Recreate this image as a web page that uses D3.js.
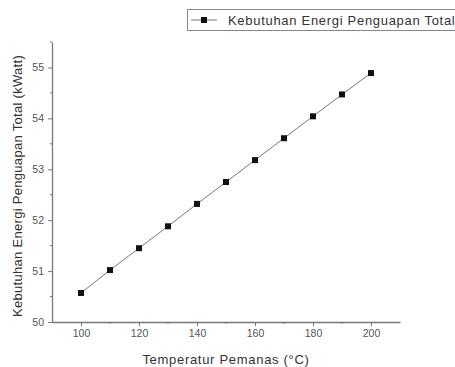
<!DOCTYPE html>
<html>
<head>
<meta charset="utf-8">
<script src="https://cdn.jsdelivr.net/npm/d3@7"></script>
<style>
  body { margin: 0; background: #fff; }
  svg { font-family: "Liberation Sans", Arial, sans-serif; }
</style>
</head>
<body>
<div id="chart"></div>
<script>
const temps = [100, 110, 120, 130, 140, 150, 160, 170, 180, 190, 200];
const energy = [50.57, 51.02, 51.45, 51.88, 52.32, 52.75, 53.18, 53.61, 54.04, 54.47, 54.89];
const xTicks = [100, 120, 140, 160, 180, 200];
const xMinor = [110, 130, 150, 170, 190];
const yTicks = [50, 51, 52, 53, 54, 55];
const yMinor = [50.5, 51.5, 52.5, 53.5, 54.5, 55.5];
const seriesName = "Kebutuhan Energi Penguapan Total";

const W = 455, H = 367;
const plot = {left: 52, right: 400, top: 42, bottom: 322};

const svg = d3.select("#chart").append("svg")
    .attr("width", W)
    .attr("height", H);

const x = d3.scaleLinear().domain([90, 210]).range([plot.left, plot.right]);
const y = d3.scaleLinear().domain([50, 55.5]).range([plot.bottom, plot.top]);

const axisColor = "#777";

// x axis
const gx = svg.append("g")
    .attr("transform", `translate(0,${plot.bottom})`)
    .call(d3.axisBottom(x).tickValues(xTicks).tickFormat(d3.format("d"))
        .tickSize(4).tickSizeOuter(0).tickPadding(4));
gx.append("g").selectAll("line")
    .data(xMinor).enter().append("line")
    .attr("x1", d => x(d)).attr("x2", d => x(d))
    .attr("y1", 0).attr("y2", 2)
    .attr("stroke", axisColor);

// y axis
const gy = svg.append("g")
    .attr("transform", `translate(${plot.left},0)`)
    .call(d3.axisLeft(y).tickValues(yTicks).tickFormat(d3.format("d"))
        .tickSize(4).tickSizeOuter(0).tickPadding(4));
gy.append("g").selectAll("line")
    .data(yMinor).enter().append("line")
    .attr("y1", d => y(d)).attr("y2", d => y(d))
    .attr("x1", 0).attr("x2", -2)
    .attr("stroke", axisColor);

[gx, gy].forEach(g => {
    g.select(".domain").attr("stroke", axisColor).attr("stroke-width", 1.3);
    g.selectAll(".tick line").attr("stroke", axisColor);
    g.selectAll(".tick text")
        .attr("fill", "#555")
        .style("font-size", "10.5px")
        .style("font-family", "Liberation Sans, Arial, sans-serif");
});

// axis titles
svg.append("text")
    .attr("x", (plot.left + plot.right) / 2)
    .attr("y", 364)
    .attr("text-anchor", "middle")
    .attr("fill", "#333")
    .style("font-size", "13px")
    .style("letter-spacing", "0.7px")
    .text("Temperatur Pemanas (°C)");

svg.append("text")
    .attr("transform", `translate(22,${(plot.top + plot.bottom) / 2 + 4}) rotate(-90)`)
    .attr("text-anchor", "middle")
    .attr("fill", "#333")
    .style("font-size", "13px")
    .style("letter-spacing", "0.3px")
    .text("Kebutuhan Energi Penguapan Total (kWatt)");

// series
const data = temps.map((t, i) => ({x: t, y: energy[i]}));
const line = d3.line().x(d => x(d.x)).y(d => y(d.y));

svg.append("path")
    .datum(data)
    .attr("fill", "none")
    .attr("stroke", "#777")
    .attr("stroke-width", 1)
    .attr("d", line);

const ms = 6;
svg.append("g").selectAll("rect")
    .data(data).enter().append("rect")
    .attr("x", d => x(d.x) - ms / 2)
    .attr("y", d => y(d.y) - ms / 2)
    .attr("width", ms)
    .attr("height", ms)
    .attr("fill", "#111");

// legend
const lg = svg.append("g");
lg.append("rect")
    .attr("x", 187.5).attr("y", 9.5)
    .attr("width", 280).attr("height", 21)
    .attr("fill", "#fff")
    .attr("stroke", "#888");
lg.append("line")
    .attr("x1", 191).attr("x2", 217)
    .attr("y1", 20).attr("y2", 20)
    .attr("stroke", "#777");
lg.append("rect")
    .attr("x", 204 - ms / 2).attr("y", 20 - ms / 2)
    .attr("width", ms).attr("height", ms)
    .attr("fill", "#111");
lg.append("text")
    .attr("x", 228)
    .attr("y", 24.5)
    .attr("fill", "#333")
    .style("font-size", "13px")
    .style("letter-spacing", "0.7px")
    .text(seriesName);
</script>
</body>
</html>
